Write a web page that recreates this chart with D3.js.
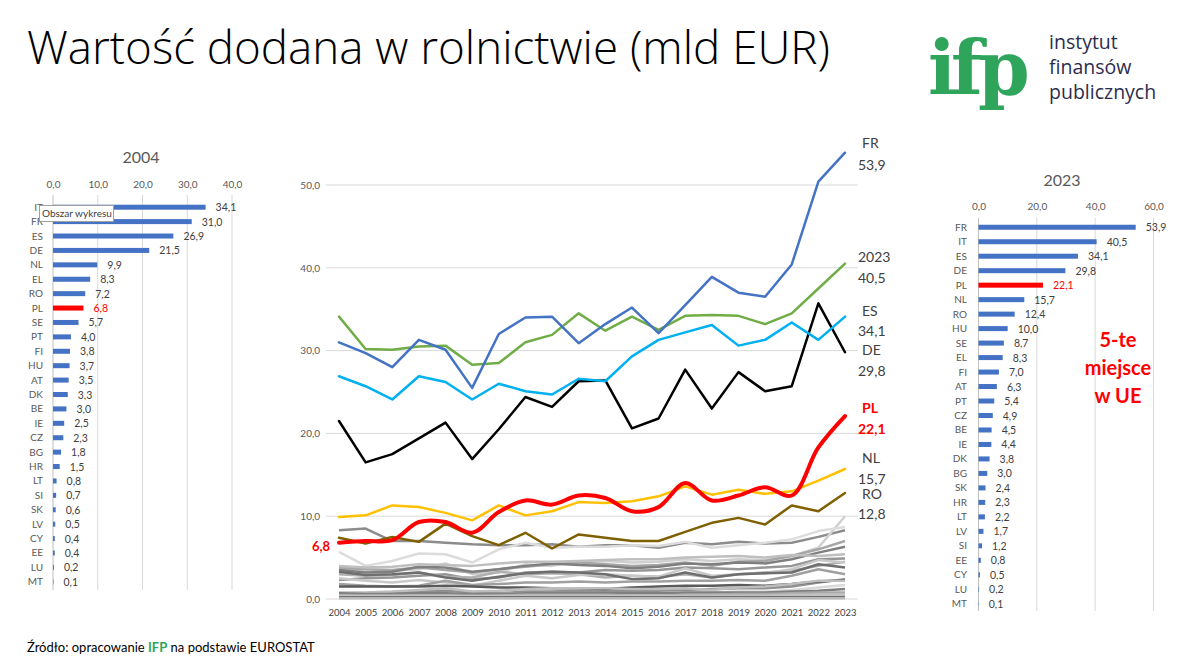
<!DOCTYPE html>
<html><head><meta charset="utf-8">
<script src="https://cdn.jsdelivr.net/npm/d3@7"></script>
<style>body{margin:0;background:#fff;} svg{display:block;}</style>
</head><body>
<svg id="c" width="1200" height="666"></svg>
<script>
// ---------- DATA ----------
const cats2004 = ["IT","FR","ES","DE","NL","EL","RO","PL","SE","PT","FI","HU","AT","DK","BE","IE","CZ","BG","HR","LT","SI","SK","LV","CY","EE","LU","MT"];
const vals2004 = [34.1,31.0,26.9,21.5,9.9,8.3,7.2,6.8,5.7,4.0,3.8,3.7,3.5,3.3,3.0,2.5,2.3,1.8,1.5,0.8,0.7,0.6,0.5,0.4,0.4,0.2,0.1];
const ticks2004 = [0,10,20,30,40];

const cats2023 = ["FR","IT","ES","DE","PL","NL","RO","HU","SE","EL","FI","AT","PT","CZ","BE","IE","DK","BG","SK","HR","LT","LV","SI","EE","CY","LU","MT"];
const vals2023 = [53.9,40.5,34.1,29.8,22.1,15.7,12.4,10.0,8.7,8.3,7.0,6.3,5.4,4.9,4.5,4.4,3.8,3.0,2.4,2.3,2.2,1.7,1.2,0.8,0.5,0.2,0.1];
const ticks2023 = [0,20,40,60];

const years = [2004,2005,2006,2007,2008,2009,2010,2011,2012,2013,2014,2015,2016,2017,2018,2019,2020,2021,2022,2023];
const lineTicks = [0,10,20,30,40,50];

const seriesFR = [31.0,29.7,28.0,31.3,30.1,25.5,32.0,34.0,34.1,30.9,33.2,35.2,32.1,35.5,38.9,37.0,36.5,40.4,50.4,53.9];
const seriesIT = [34.1,30.2,30.1,30.5,30.6,28.3,28.5,31.0,31.9,34.5,32.4,34.1,32.5,34.2,34.3,34.2,33.2,34.5,37.5,40.5];
const seriesES = [26.9,25.7,24.1,26.9,26.2,24.1,26.0,25.1,24.7,26.6,26.3,29.3,31.3,32.2,33.1,30.6,31.3,33.4,31.3,34.1];
const seriesDE = [21.5,16.5,17.5,19.4,21.3,16.9,20.5,24.4,23.2,26.3,26.4,20.6,21.8,27.7,23.0,27.4,25.1,25.7,35.7,29.8];
const seriesPL = [6.8,7.0,7.1,9.3,9.3,8.0,10.5,11.9,11.4,12.5,12.2,10.6,11.1,14.0,11.9,12.5,13.5,12.5,18.3,22.1];
const seriesNL = [9.9,10.1,11.3,11.1,10.4,9.5,11.3,10.1,10.6,11.7,11.6,11.8,12.4,13.6,12.6,13.2,12.7,13.0,14.3,15.7];
const seriesRO = [7.4,6.7,7.5,6.9,9.1,7.6,6.5,8.0,6.1,7.8,7.4,7.0,7.0,8.1,9.2,9.8,9.0,11.3,10.6,12.8];

const greyNames = ["EL","HU","SE","FI","AT","PT","CZ","BE","IE","DK","BG","SK","HR","LT","LV","SI","EE","CY","LU","MT"];
const greyValues = [
 [8.3,8.5,7.0,7.0,6.8,6.6,6.5,6.5,6.6,6.3,6.5,6.5,6.2,6.8,6.6,6.9,6.7,6.8,7.5,8.3],
 [3.7,3.3,3.4,3.6,4.3,3.0,3.2,4.2,4.0,4.5,4.6,4.4,4.5,4.8,4.6,4.8,4.7,5.2,6.2,10.0],
 [5.7,4.0,4.6,5.5,5.4,4.4,6.0,6.8,6.2,6.3,6.3,6.5,6.4,6.9,6.2,6.5,6.8,7.2,8.2,8.7],
 [3.8,3.6,3.5,3.8,3.5,3.2,3.6,3.9,4.2,4.4,4.2,4.0,4.1,4.4,4.0,4.5,4.6,5.2,6.0,7.0],
 [3.5,3.2,3.3,3.9,3.8,3.3,3.6,4.0,4.3,4.1,4.0,3.7,3.9,4.3,4.2,4.4,4.3,4.8,5.6,6.3],
 [4.0,3.8,3.9,4.2,4.1,4.0,4.3,4.5,4.5,4.6,4.7,4.8,4.8,5.0,5.1,5.2,5.0,5.3,5.2,5.4],
 [2.3,2.5,2.6,2.8,3.0,2.4,2.6,3.2,3.3,3.2,3.5,3.4,3.5,3.8,3.7,3.6,3.8,4.0,4.8,4.9],
 [3.0,2.8,2.9,3.2,2.7,2.6,3.3,3.0,3.1,3.0,2.6,2.8,2.7,3.0,2.6,3.0,3.2,3.4,4.0,4.5],
 [2.5,2.2,2.0,2.3,2.0,1.6,2.2,2.8,2.5,2.9,3.0,2.8,2.7,3.7,2.8,3.0,3.1,3.6,4.7,4.4],
 [3.3,2.9,3.0,3.2,2.6,2.2,2.7,3.1,3.3,3.2,3.0,2.4,2.5,3.2,2.6,3.0,3.1,3.2,4.2,3.8],
 [1.8,1.6,1.5,1.6,2.2,1.7,1.8,2.0,2.0,2.1,2.0,2.1,2.1,2.2,2.2,2.3,2.2,2.8,3.6,3.0],
 [0.6,0.7,0.8,0.9,1.0,0.8,0.7,0.9,0.9,1.0,1.0,1.0,1.0,1.1,1.2,1.3,1.3,1.5,2.0,2.4],
 [1.5,1.5,1.5,1.5,1.6,1.5,1.4,1.4,1.3,1.3,1.2,1.4,1.5,1.6,1.6,1.7,1.6,1.8,2.1,2.3],
 [0.8,0.8,0.9,1.1,1.3,0.9,1.0,1.2,1.3,1.3,1.3,1.2,1.2,1.3,1.1,1.4,1.5,1.8,2.2,2.2],
 [0.5,0.5,0.5,0.6,0.6,0.5,0.6,0.7,0.7,0.7,0.7,0.7,0.7,0.8,0.8,0.9,0.9,1.1,1.4,1.7],
 [0.7,0.6,0.6,0.7,0.7,0.6,0.6,0.7,0.7,0.7,0.7,0.7,0.7,0.8,0.8,0.8,0.8,0.9,1.0,1.2],
 [0.4,0.4,0.4,0.4,0.4,0.3,0.4,0.5,0.5,0.5,0.5,0.4,0.4,0.5,0.5,0.6,0.6,0.7,0.8,0.8],
 [0.4,0.4,0.4,0.4,0.4,0.4,0.4,0.4,0.4,0.4,0.4,0.4,0.4,0.4,0.4,0.4,0.4,0.5,0.5,0.5],
 [0.2,0.2,0.2,0.2,0.2,0.2,0.2,0.2,0.2,0.2,0.2,0.2,0.2,0.2,0.2,0.2,0.2,0.2,0.2,0.2],
 [0.1,0.1,0.1,0.1,0.1,0.1,0.1,0.1,0.1,0.1,0.1,0.1,0.1,0.1,0.1,0.1,0.1,0.1,0.1,0.1]
];
const greyColors = ["#8C8C8C","#D0D0D0","#DCDCDC","#A6A6A6","#7F7F7F","#BFBFBF","#969696","#B0B0B0","#C8C8C8","#6E6E6E","#A0A0A0","#909090","#5A5A5A","#BDBDBD","#D9D9D9","#808080","#A8A8A8","#C0C0C0","#707070","#B8B8B8"];

const endLabels = [
  {name:"FR", value:"53,9", y1:143, y2:165, color:"#404040", bold:false},
  {name:"2023", value:"40,5", y1:257, y2:278, color:"#404040", bold:false},
  {name:"ES", value:"34,1", y1:311, y2:331, color:"#404040", bold:false},
  {name:"DE", value:"29,8", y1:350, y2:371, color:"#404040", bold:false},
  {name:"PL", value:"22,1", y1:408, y2:429, color:"#FF0000", bold:true},
  {name:"NL", value:"15,7", y1:458, y2:479, color:"#404040", bold:false},
  {name:"RO", value:"12,8", y1:494, y2:514, color:"#404040", bold:false}
];

const fmt = v => d3.format(".1f")(v).replace(".", ",");
const FONT = "Lato, 'Open Sans', sans-serif";
const svg = d3.select("#c");

// ---------- TITLE ----------
const title = svg.append("text").attr("x",27).attr("y",64)
  .attr("font-family","'Open Sans', Lato, sans-serif").attr("font-weight",300)
  .attr("font-size",46).attr("fill","#000").text("Wartość dodana w rolnictwie (mld EUR)");
const tw = title.node().getComputedTextLength();
title.attr("font-size", 46*803/tw);

// ---------- LOGO ----------
svg.append("text").attr("x",928).attr("y",94).attr("font-family","'DejaVu Serif', 'Liberation Serif', serif")
  .attr("font-weight","bold").attr("font-size",74).attr("fill","#2EA55B").attr("letter-spacing",-5).text("ifp");
[["instytut",49],["finansów",74],["publicznych",99]].forEach(([t,y])=>{
  svg.append("text").attr("x",1049).attr("y",y).attr("font-family","'Open Sans', sans-serif")
    .attr("font-size",19.5).attr("fill","#2B2D4F").text(t);
});

// ---------- HORIZONTAL BAR CHART helper ----------
function barChart(opts){
  const {cats, vals, ticks, x0, x1, dmax, yTop, yBot, title, titleX, titleY, tickY, gridTop, gridBot, labelX} = opts;
  const g = svg.append("g");
  const x = d3.scaleLinear().domain([0,dmax]).range([x0,x1]);
  const y = d3.scaleBand().domain(cats).range([yTop,yBot]).paddingInner(0);
  g.append("text").attr("x",titleX).attr("y",titleY).attr("text-anchor","middle")
    .attr("font-family",FONT).attr("font-size",16).attr("fill","#595959").text(title);
  g.selectAll(".grid").data(ticks).join("line")
    .attr("x1",d=>x(d)).attr("x2",d=>x(d)).attr("y1",gridTop).attr("y2",gridBot)
    .attr("stroke",d=>d===0?"#BFBFBF":"#D9D9D9").attr("stroke-width",1);
  const ax = d3.axisTop(x).tickValues(ticks).tickFormat(fmt).tickSize(0).tickPadding(0);
  const axg = g.append("g").attr("transform",`translate(0,${tickY})`).call(ax);
  axg.select(".domain").remove();
  axg.selectAll("text").attr("font-family",FONT).attr("font-size",10).attr("fill","#595959");
  const bh = 5;
  g.selectAll(".bar").data(cats).join("rect")
    .attr("x",x(0)).attr("y",(d)=>y(d)+y.bandwidth()/2-bh/2)
    .attr("width",(d,i)=>Math.max(0,x(vals[i])-x(0))).attr("height",bh)
    .attr("fill",d=>d==="PL"?"#FF0000":"#4472C4");
  g.selectAll(".cl").data(cats).join("text")
    .attr("x",labelX).attr("y",d=>y(d)+y.bandwidth()/2+3.5).attr("text-anchor","end")
    .attr("font-family",FONT).attr("font-size",10).attr("fill","#595959").text(d=>d);
  g.selectAll(".vl").data(cats).join("text")
    .attr("x",(d,i)=>x(vals[i])+10).attr("y",d=>y(d)+y.bandwidth()/2+4)
    .attr("font-family",FONT).attr("font-size",10.5)
    .attr("fill",d=>d==="PL"?"#FF0000":"#404040").text((d,i)=>fmt(vals[i]));
  return g;
}

barChart({cats:cats2004, vals:vals2004, ticks:ticks2004, x0:53, x1:232, dmax:40,
  yTop:200, yBot:589, title:"2004", titleX:141, titleY:163, tickY:188, gridTop:195, gridBot:590, labelX:43});
barChart({cats:cats2023, vals:vals2023, ticks:ticks2023, x0:978.5, x1:1153.5, dmax:60,
  yTop:220, yBot:611, title:"2023", titleX:1062, titleY:186, tickY:210, gridTop:218, gridBot:611, labelX:967});

// tooltip artifact
const tip = svg.append("g");
tip.append("rect").attr("x",39.5).attr("y",205.5).attr("width",74).attr("height",16)
  .attr("fill","#fff").attr("stroke","#A0A0A0");
tip.append("text").attr("x",42).attr("y",217).attr("font-family",FONT).attr("font-size",10)
  .attr("fill","#404040").text("Obszar wykresu");

// 5-te miejsce
[["5-te",347],["miejsce",375],["w UE",403]].forEach(([t,y])=>{
  svg.append("text").attr("x",1118).attr("y",y).attr("text-anchor","middle")
    .attr("font-family",FONT).attr("font-weight","bold").attr("font-size",20).attr("fill","#FF0000").text(t);
});

// ---------- LINE CHART ----------
const lx = d3.scaleLinear().domain([2004,2023]).range([339,845]);
const ly = d3.scaleLinear().domain([0,50]).range([599,185]);
const lg = svg.append("g");
lg.selectAll(".hg").data(lineTicks).join("line")
  .attr("x1",326).attr("x2",858).attr("y1",d=>ly(d)).attr("y2",d=>ly(d))
  .attr("stroke","#D9D9D9").attr("stroke-width",1);
const yax = lg.append("g").attr("transform","translate(320,0)")
  .call(d3.axisLeft(ly).tickValues(lineTicks).tickFormat(fmt).tickSize(0).tickPadding(0));
yax.select(".domain").remove();
yax.selectAll("text").attr("font-family",FONT).attr("font-size",10).attr("fill","#595959");
const xax = lg.append("g").attr("transform","translate(0,607)")
  .call(d3.axisBottom(lx).tickValues(years).tickFormat(d=>String(d)).tickSize(0).tickPadding(2));
xax.select(".domain").remove();
xax.selectAll("text").attr("font-family",FONT).attr("font-size",9.5).attr("fill","#404040");

const line = d3.line().x((d,i)=>lx(years[i])).y(d=>ly(d));
const smooth = d3.line().x((d,i)=>lx(years[i])).y(d=>ly(d)).curve(d3.curveCatmullRom.alpha(0.5));

greyValues.forEach((vals,k)=>{
  lg.append("path").datum(vals).attr("d",line).attr("fill","none")
    .attr("stroke",greyColors[k]).attr("stroke-width",2.5).attr("stroke-linejoin","round");
});
const coloured = [
  [seriesRO,"#7F6000",2.5,line],
  [seriesNL,"#FFC000",2.5,line],
  [seriesDE,"#000000",2.5,line],
  [seriesES,"#00B0F0",2.5,line],
  [seriesIT,"#70AD47",2.5,line],
  [seriesFR,"#4472C4",2.5,line],
  [seriesPL,"#FF0000",4,smooth]
];
coloured.forEach(([vals,col,w,gen])=>{
  lg.append("path").datum(vals).attr("d",gen).attr("fill","none")
    .attr("stroke",col).attr("stroke-width",w).attr("stroke-linejoin","round").attr("stroke-linecap","round");
});

endLabels.forEach(l=>{
  [[l.name,l.y1],[l.value,l.y2]].forEach(([t,y])=>{
    lg.append("text").attr("x",t.length>2?858:862).attr("y",y+5)
      .attr("font-family",FONT).attr("font-size",14).attr("font-weight",l.bold?"bold":"normal")
      .attr("fill",l.color).text(t);
  });
});
lg.append("text").attr("x",312).attr("y",551).attr("font-family",FONT).attr("font-weight","bold")
  .attr("font-size",13).attr("fill","#FF0000").text(fmt(seriesPL[0]));

// ---------- FOOTER ----------
const ft = svg.append("text").attr("x",27).attr("y",652).attr("font-family",FONT).attr("font-size",13).attr("fill","#000");
ft.append("tspan").text("Źródło: opracowanie ");
ft.append("tspan").attr("fill","#2EA55B").attr("font-weight","bold").text("IFP");
ft.append("tspan").text(" na podstawie EUROSTAT");
</script>
</body></html>
